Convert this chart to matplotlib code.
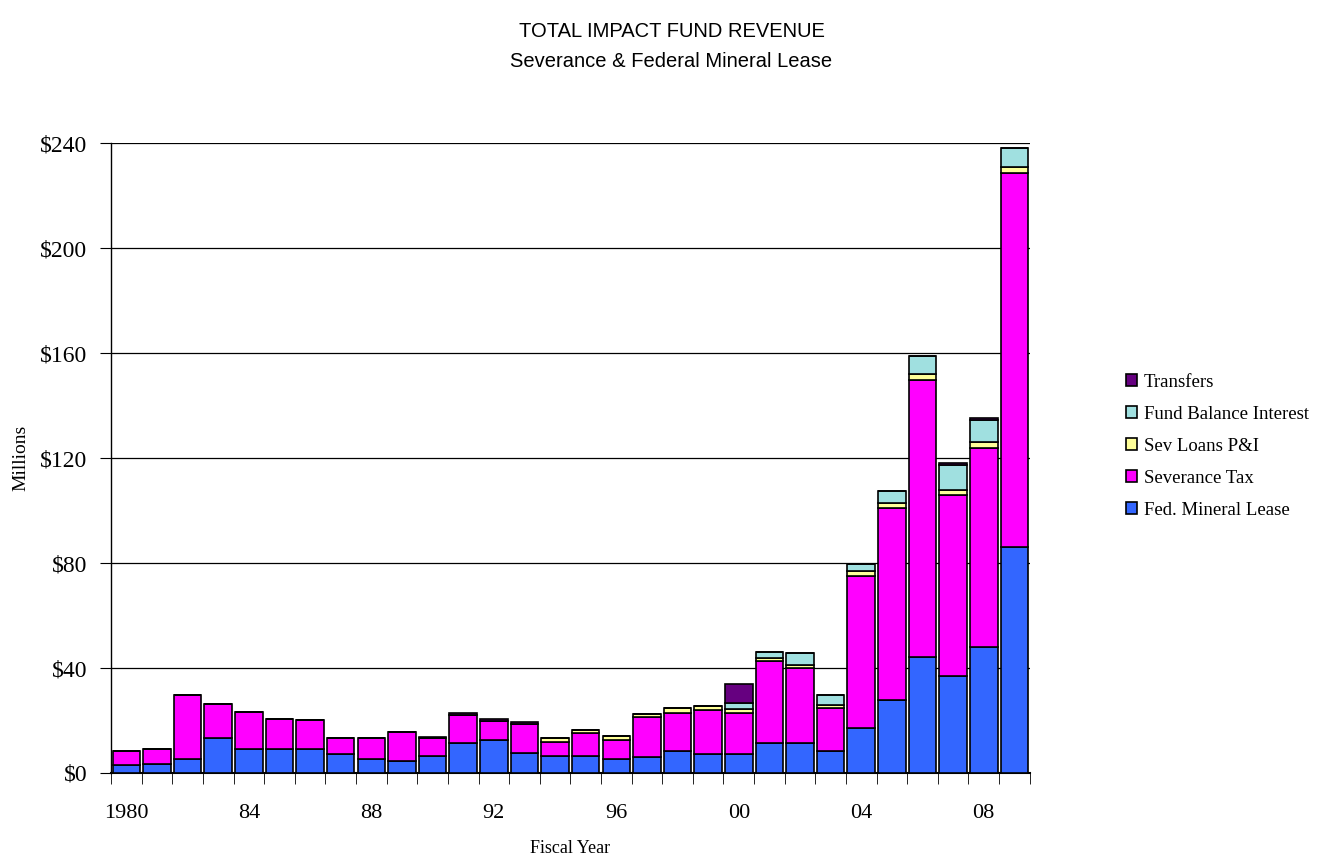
import numpy as np
import matplotlib.pyplot as plt
from matplotlib.patches import Patch

# Fiscal years 1980-2009, values in $ millions
years = list(range(1980, 2010))
fed_mineral = [3.0, 3.6, 5.3, 13.3, 9.0, 9.0, 9.0, 7.1, 5.3, 4.7,
               6.6, 11.4, 12.6, 7.7, 6.6, 6.6, 5.3, 6.0, 8.4, 7.2,
               7.1, 11.4, 11.4, 8.4, 17.1, 27.9, 44.3, 37.1, 48.0, 86.0]
severance = [5.4, 5.5, 24.4, 12.9, 14.1, 11.7, 11.1, 6.2, 8.0, 11.0,
             6.6, 10.8, 7.3, 11.0, 5.3, 8.5, 7.4, 15.2, 14.6, 16.9,
             15.9, 31.1, 28.5, 16.4, 57.9, 73.2, 105.5, 68.8, 75.7, 142.5]
sev_loans = [0, 0, 0, 0, 0, 0, 0, 0, 0, 0,
             0, 0, 0, 0, 1.6, 1.3, 1.3, 1.3, 1.9, 1.4,
             1.3, 1.2, 1.4, 1.2, 1.9, 1.9, 2.4, 1.9, 2.3, 2.2]
fund_interest = [0, 0, 0, 0, 0, 0, 0, 0, 0, 0,
                 0, 0, 0, 0, 0, 0, 0, 0, 0, 0,
                 2.4, 2.5, 4.4, 3.7, 2.6, 4.4, 6.7, 9.6, 8.6, 7.4]
transfers = [0, 0, 0, 0, 0, 0, 0, 0, 0, 0,
             0.7, 0.8, 0.7, 0.6, 0, 0, 0, 0, 0, 0,
             7.3, 0, 0, 0, 0, 0, 0, 0.7, 0.7, 0]

series = [
    ('Fed. Mineral Lease', fed_mineral, '#3366FF'),
    ('Severance Tax', severance, '#FF00FF'),
    ('Sev Loans P&I', sev_loans, '#FFFF99'),
    ('Fund Balance Interest', fund_interest, '#A0E0E0'),
    ('Transfers', transfers, '#660080'),
]

fig = plt.figure(figsize=(13.43, 8.63), dpi=100)
ax = fig.add_axes([0.0827, 0.1043, 0.684, 0.7299])

x = np.arange(len(years))
bottom = np.zeros(len(years))
for name, vals, col in series:
    v = np.array(vals, dtype=float)
    ax.bar(x, v, bottom=bottom, width=0.9, color=col, edgecolor='black',
           linewidth=1.2, zorder=3)
    bottom += v

ax.set_xlim(-0.5, len(years) - 0.5)
ax.set_ylim(0, 240)
ax.set_yticks(np.arange(0, 241, 40))
ax.set_yticklabels([f'${v}' for v in range(0, 241, 40)],
                   fontfamily='Liberation Serif', fontsize=17)
ax.yaxis.grid(True, color='black', linewidth=0.9, zorder=0)
ax.set_axisbelow(True)

# labels every 4 years at bar centers, tick marks at bar boundaries
lab_pos = x[::4]
ax.set_xticks(lab_pos)
ax.set_xticklabels(['1980' if y == 1980 else f'{y % 100:02d}' for y in years[::4]],
                   fontfamily='Liberation Serif', fontsize=16)
ax.tick_params(axis='x', which='major', length=0, pad=22)
ax.set_xticks(np.arange(-0.5, len(years)), minor=True)
ax.tick_params(axis='x', which='minor', length=8, direction='out', color='black')
ax.tick_params(axis='y', length=8, direction='out', pad=9)

for s in ['top', 'right']:
    ax.spines[s].set_visible(False)
ax.spines['left'].set_linewidth(1.0)
ax.spines['bottom'].set_linewidth(1.5)

ax.set_ylabel('Millions', fontfamily='Liberation Serif', fontsize=14, labelpad=8)
fig.text(0.4245, 0.017, 'Fiscal Year', ha='center', va='center',
         fontfamily='Liberation Serif', fontsize=13)

fig.text(0.5, 0.963, 'TOTAL IMPACT FUND REVENUE', ha='center', va='center',
         fontfamily='Liberation Sans', fontsize=14.5)
fig.text(0.5, 0.929, 'Severance & Federal Mineral Lease', ha='center', va='center',
         fontfamily='Liberation Sans', fontsize=14.5)

handles = [Patch(facecolor=c, edgecolor='black', linewidth=1.2, label=n)
           for n, _, c in series[::-1]]
fig.legend(handles=handles, loc='center left', bbox_to_anchor=(0.826, 0.483),
           frameon=False, prop={'family': 'Liberation Serif', 'size': 13.5},
           handlelength=0.6, handleheight=0.6, handletextpad=0.35,
           labelspacing=0.8)

plt.savefig('out.png', dpi=100)
plt.close()
